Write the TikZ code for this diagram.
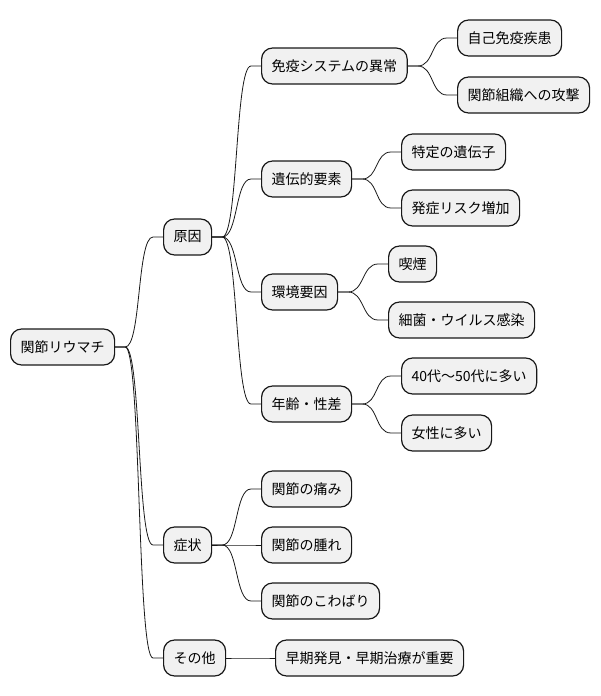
\documentclass[tikz,border=0pt]{standalone}
\usepackage{fontspec}
\setmainfont{Noto Sans CJK JP}
\usetikzlibrary{calc}
\definecolor{ink}{RGB}{24,24,24}
\definecolor{boxfill}{RGB}{241,241,241}

\begin{document}
\begin{tikzpicture}[x=1pt,y=1pt,font=\fontsize{14}{17}\selectfont,
 b/.style={draw=ink,line width=1.2pt,fill=boxfill,rounded corners=11pt,anchor=west,inner xsep=10pt,minimum height=36pt},
 br/.style={draw=ink,line width=0.8pt,to path={-- ++(10,0) .. controls +(16,0) and +(-16,0) .. ($(\tikztotarget)+(-10,0)$) -- (\tikztotarget)}}]
 \useasboundingbox (0,0) rectangle (600,-696);
 % root and first level
 \node[b](root) at (10,-347){関節リウマチ};
 \node[b](cause) at (163,-237){原因};
 \node[b](symp) at (163,-545){症状};
 \node[b](other) at (163,-658){その他};
 % causes
 \node[b](immune) at (261,-66){免疫システムの異常};
 \node[b](auto) at (457,-38){自己免疫疾患};
 \node[b](attack) at (457,-95){関節組織への攻撃};
 \node[b](gene) at (261,-179){遺伝的要素};
 \node[b](spec) at (401,-152){特定の遺伝子};
 \node[b](risk) at (401,-208){発症リスク増加};
 \node[b](env) at (261,-292){環境要因};
 \node[b](smoke) at (388,-264){喫煙};
 \node[b](infect) at (388,-320){細菌・ウイルス感染};
 \node[b](age) at (261,-404){年齢・性差};
 \node[b](forty) at (401,-376){40代〜50代に多い};
 \node[b](women) at (401,-433){女性に多い};
 % symptoms
 \node[b](pain) at (261,-489){関節の痛み};
 \node[b](swell) at (261,-545){関節の腫れ};
 \node[b](stiff) at (261,-601){関節のこわばり};
 % other
 \node[b](early) at (275,-658){早期発見・早期治療が重要};
 \foreach \p/\c in {root/cause,root/symp,root/other,
   cause/immune,cause/gene,cause/env,cause/age,
   immune/auto,immune/attack,gene/spec,gene/risk,
   env/smoke,env/infect,age/forty,age/women,
   symp/pain,symp/swell,symp/stiff,other/early}
  \draw[br](\p.east) to (\c.west);
\end{tikzpicture}
\end{document}
